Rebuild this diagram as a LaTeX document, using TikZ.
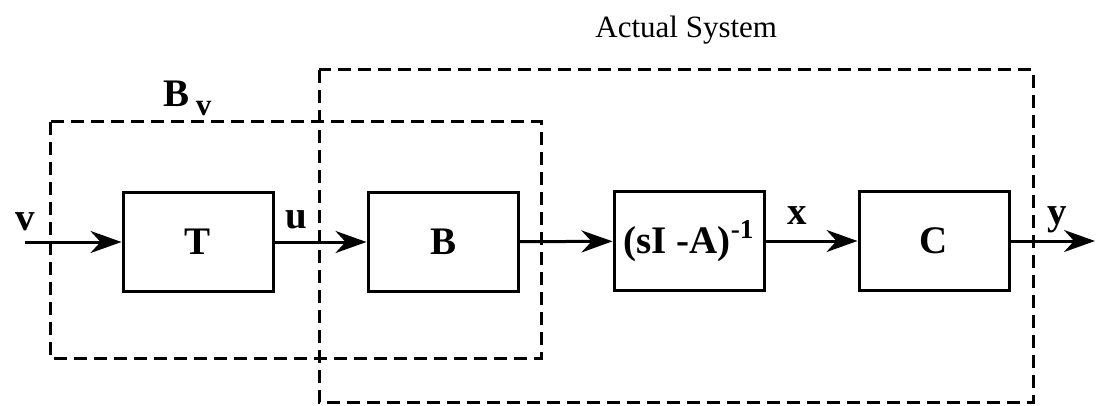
\documentclass[tikz,border=0pt]{standalone}
\usepackage{fontspec}
\setmainfont{Liberation Serif}
\usetikzlibrary{arrows.meta}

\tikzset{
  block/.style={draw, line width=1.5pt, minimum width=75pt, minimum height=49pt,
    inner sep=0pt, font=\bfseries\fontsize{19.5}{22}\selectfont},
  sig/.style={-{Stealth[length=15.5pt,width=11pt,inset=5pt]}, line width=1.5pt},
  dashbox/.style={line width=1.5pt, dash pattern=on 6.5pt off 3.5pt},
  siglabel/.style={anchor=base, font=\bfseries\fontsize{19.5}{22}\selectfont}
}

\begin{document}
\begin{tikzpicture}[x=0.5pt,y=-0.5pt]
  \useasboundingbox (0,0) rectangle (1096,406);

  % dashed groups
  \draw[dashbox] (50,122) rectangle (541,358);
  \draw[dashbox] (319,70) rectangle (1033,402);
  \node[anchor=base west, inner sep=0pt, font=\bfseries\fontsize{19.5}{22}\selectfont] (bvlabel) at (163,107) {B\,\raisebox{-4.5pt}{\fontsize{15.5}{18}\selectfont v}};
  \node[anchor=base west, inner sep=0pt, font=\fontsize{15.5}{18}\selectfont] (actual) at (595,38) {Actual System};

  % blocks
  \node[block] (T) at (198,242) {T};
  \node[block] (B) at (443,242) {B};
  \node[block] (G) at (689,241) {(sI -A)\textsuperscript{-1}};
  \node[block] (C) at (934,241) {C};

  \coordinate (vin) at (25,242);
  \coordinate (yout) at (1095,241);

  % signals
  \draw[sig] (vin) -- (T);
  \draw[sig] (T) -- (B);
  \draw[sig] (B) -- (G);
  \draw[sig] (G) -- (C);
  \draw[sig] (C) -- (yout);

  \node[siglabel] (vlabel) at (25,230) {v};
  \node[siglabel] (ulabel) at (296,228) {u};
  \node[siglabel] (xlabel) at (797,225) {x};
  \node[siglabel] (ylabel) at (1057,225) {y};
\end{tikzpicture}
\end{document}
